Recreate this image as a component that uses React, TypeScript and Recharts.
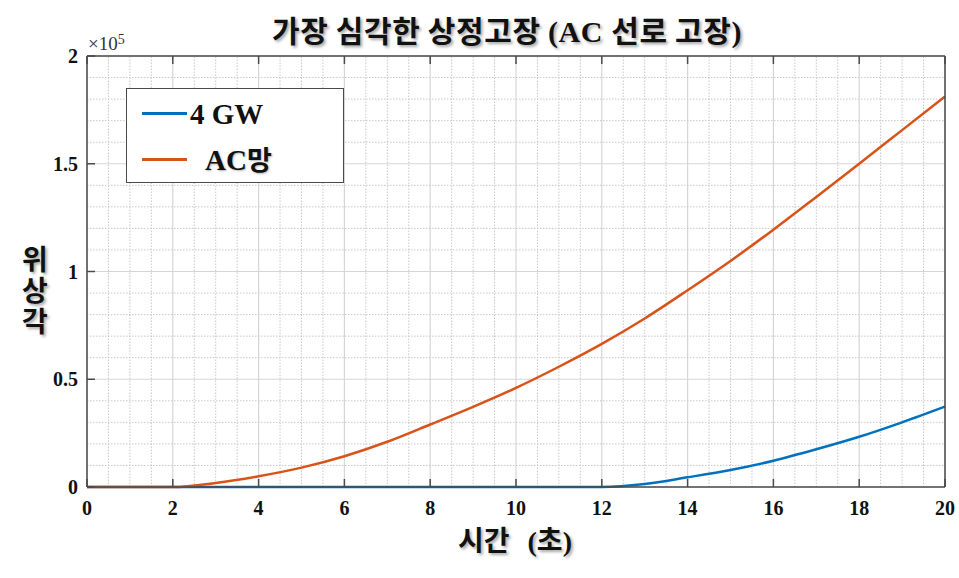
import {
  CartesianGrid,
  Line,
  LineChart,
  ReferenceLine,
  XAxis,
  YAxis,
} from "recharts";

// Time in seconds, one sample per second.
const TIME = [0, 1, 2, 3, 4, 5, 6, 7, 8, 9, 10, 11, 12, 13, 14, 15, 16, 17, 18, 19, 20];
// Phase angle.
const AC_NET = [
  0, 0, 0, 1900, 5000, 9000, 14300, 21000, 29000, 37200, 46000, 55800, 66400, 78200,
  91300, 104900, 119400, 134600, 150000, 165600, 181200,
];
const GW_4 = [
  0, 0, 0, 0, 0, 0, 0, 0, 0, 0, 0, 0, 0, 1400, 4500, 7900, 12200, 17500, 23300, 30000,
  37300,
];

const X_TICKS = [0, 2, 4, 6, 8, 10, 12, 14, 16, 18, 20];
const Y_TICKS = [0, 50000, 100000, 150000, 200000];
const X_MINOR = Array.from({ length: 41 }, (_, i) => i * 0.5).filter((v) => v % 2 !== 0);
const Y_MINOR = Array.from({ length: 21 }, (_, i) => i * 10000).filter((v) => v % 50000 !== 0);

const BLUE = "#0072bd";
const ORANGE = "#d95319";
const AXIS = "#4a4a4a";
const SERIF = '"Liberation Serif", "Times New Roman", serif';
const KR = '"Noto Sans CJK KR", "Noto Sans", sans-serif';
const SHADOW = "2px 2px 3px rgba(0,0,0,0.35)";
const TICK_LEN = 8;

const data = TIME.map((t, i) => ({ t, ac: AC_NET[i], gw: GW_4[i] }));

function BottomTick(props: any) {
  const { x, y, payload } = props;
  // y is plot bottom + tickMargin (12)
  return (
    <g>
      <line x1={x} y1={y - 12} x2={x} y2={y - 12 - TICK_LEN} stroke={AXIS} strokeWidth={1.5} />
      <text x={x} y={y} dy={16} textAnchor="middle" fontFamily={SERIF} fontWeight={700} fontSize={20} fill="#111">
        {payload.value}
      </text>
    </g>
  );
}

function LeftTick(props: any) {
  const { x, y, payload } = props;
  // x is plot left - tickMargin (9)
  return (
    <g>
      <line x1={x + 9} y1={y} x2={x + 9 + TICK_LEN} y2={y} stroke={AXIS} strokeWidth={1.5} />
      <text x={x} y={y} dy={7} textAnchor="end" fontFamily={SERIF} fontWeight={700} fontSize={20} fill="#111">
        {String(payload.value / 100000)}
      </text>
    </g>
  );
}

function TopTick(props: any) {
  const { x, y } = props;
  return <line x1={x} y1={y} x2={x} y2={y + TICK_LEN} stroke={AXIS} strokeWidth={1.5} />;
}

function RightTick(props: any) {
  const { x, y } = props;
  return <line x1={x - TICK_LEN} y1={y} x2={x} y2={y} stroke={AXIS} strokeWidth={1.5} />;
}

export default function App() {
  return (
    <div style={{ position: "absolute", left: 0, top: 0, width: 959, height: 578, background: "#fff" }}>
      <LineChart width={959} height={578} data={data} margin={{ top: 26, right: 0, bottom: 0, left: 0 }}>
        {X_MINOR.map((v) => (
          <ReferenceLine key={"xm" + v} x={v} stroke="#c8c8c8" strokeDasharray="1.5 1.5" />
        ))}
        {Y_MINOR.map((v) => (
          <ReferenceLine key={"ym" + v} y={v} stroke="#c8c8c8" strokeDasharray="1.5 1.5" />
        ))}
        <CartesianGrid stroke="#d6d6d6" strokeWidth={1.2} />
        <XAxis
          dataKey="t"
          type="number"
          domain={[0, 20]}
          ticks={X_TICKS}
          interval={0}
          height={91}
          tickSize={0}
          tickMargin={12}
          tickLine={false}
          axisLine={{ stroke: AXIS, strokeWidth: 1.5 }}
          tick={<BottomTick />}
        />
        <XAxis
          xAxisId="top"
          orientation="top"
          dataKey="t"
          type="number"
          domain={[0, 20]}
          ticks={X_TICKS}
          interval={0}
          height={30}
          tickSize={0}
          tickMargin={0}
          tickLine={false}
          axisLine={{ stroke: AXIS, strokeWidth: 1.5 }}
          tick={<TopTick />}
        />
        <YAxis
          type="number"
          domain={[0, 200000]}
          ticks={Y_TICKS}
          interval={0}
          width={87}
          tickSize={0}
          tickMargin={9}
          tickLine={false}
          axisLine={{ stroke: AXIS, strokeWidth: 1.5 }}
          tick={<LeftTick />}
        />
        <YAxis
          yAxisId="right"
          orientation="right"
          type="number"
          domain={[0, 200000]}
          ticks={Y_TICKS}
          interval={0}
          width={14}
          tickSize={0}
          tickMargin={0}
          tickLine={false}
          axisLine={{ stroke: AXIS, strokeWidth: 1.5 }}
          tick={<RightTick />}
        />
        <Line type="monotone" dataKey="gw" stroke={BLUE} strokeWidth={2.5} dot={false} isAnimationActive={false} />
        <Line type="monotone" dataKey="ac" stroke={ORANGE} strokeWidth={2.5} dot={false} isAnimationActive={false} />
      </LineChart>

      {/* title */}
      <div
        style={{
          position: "absolute",
          left: 507,
          top: 11,
          transform: "translateX(-50%)",
          whiteSpace: "nowrap",
          lineHeight: "36px",
          fontSize: 30,
          letterSpacing: "0.6px",
          fontWeight: 700,
          color: "#111",
          textShadow: SHADOW,
        }}
      >
        <span style={{ fontFamily: KR }}>가장 심각한 상정고장 </span>
        <span style={{ fontFamily: SERIF, fontSize: 30 }}>(AC </span>
        <span style={{ fontFamily: KR }}>선로 고장</span>
        <span style={{ fontFamily: SERIF, fontSize: 30 }}>)</span>
      </div>

      {/* exponent */}
      <div style={{ position: "absolute", left: 88, top: 32, fontFamily: SERIF, fontSize: 19, color: "#333", whiteSpace: "nowrap" }}>
        ×10<sup style={{ fontSize: 14, verticalAlign: "6px" }}>5</sup>
      </div>

      {/* y label */}
      <div
        style={{
          position: "absolute",
          left: 18,
          top: 245,
          writingMode: "vertical-rl",
          textOrientation: "upright",
          letterSpacing: "3px",
          fontFamily: KR,
          fontWeight: 700,
          fontSize: 28,
          lineHeight: "34px",
          color: "#111",
          textShadow: SHADOW,
        }}
      >
        위상각
      </div>

      {/* x label */}
      <div
        style={{
          position: "absolute",
          left: 458,
          top: 522,
          whiteSpace: "nowrap",
          lineHeight: "34px",
          fontSize: 28,
          fontWeight: 700,
          color: "#111",
          textShadow: SHADOW,
        }}
      >
        <span style={{ fontFamily: KR }}>시간</span>
        <span style={{ fontFamily: SERIF, marginLeft: 18 }}>(</span>
        <span style={{ fontFamily: KR }}>초</span>
        <span style={{ fontFamily: SERIF }}>)</span>
      </div>

      {/* legend */}
      <div
        style={{
          position: "absolute",
          left: 126,
          top: 88,
          width: 218,
          height: 95,
          boxSizing: "border-box",
          border: `1.5px solid ${AXIS}`,
          background: "#fff",
          fontWeight: 700,
          color: "#111",
        }}
      >
        <div style={{ position: "absolute", left: 15, top: 23, width: 45, height: 3, background: BLUE }} />
        <div style={{ position: "absolute", left: 63, top: 8, lineHeight: "34px", fontSize: 29, fontFamily: SERIF, whiteSpace: "nowrap" }}>
          4 GW
        </div>
        <div style={{ position: "absolute", left: 15, top: 69, width: 45, height: 3, background: ORANGE }} />
        <div style={{ position: "absolute", left: 78, top: 53, lineHeight: "34px", fontSize: 29, whiteSpace: "nowrap", textShadow: "1px 1px 2px rgba(0,0,0,0.3)" }}>
          <span style={{ fontFamily: SERIF }}>AC</span>
          <span style={{ fontFamily: KR, fontSize: 27 }}>망</span>
        </div>
      </div>
    </div>
  );
}
